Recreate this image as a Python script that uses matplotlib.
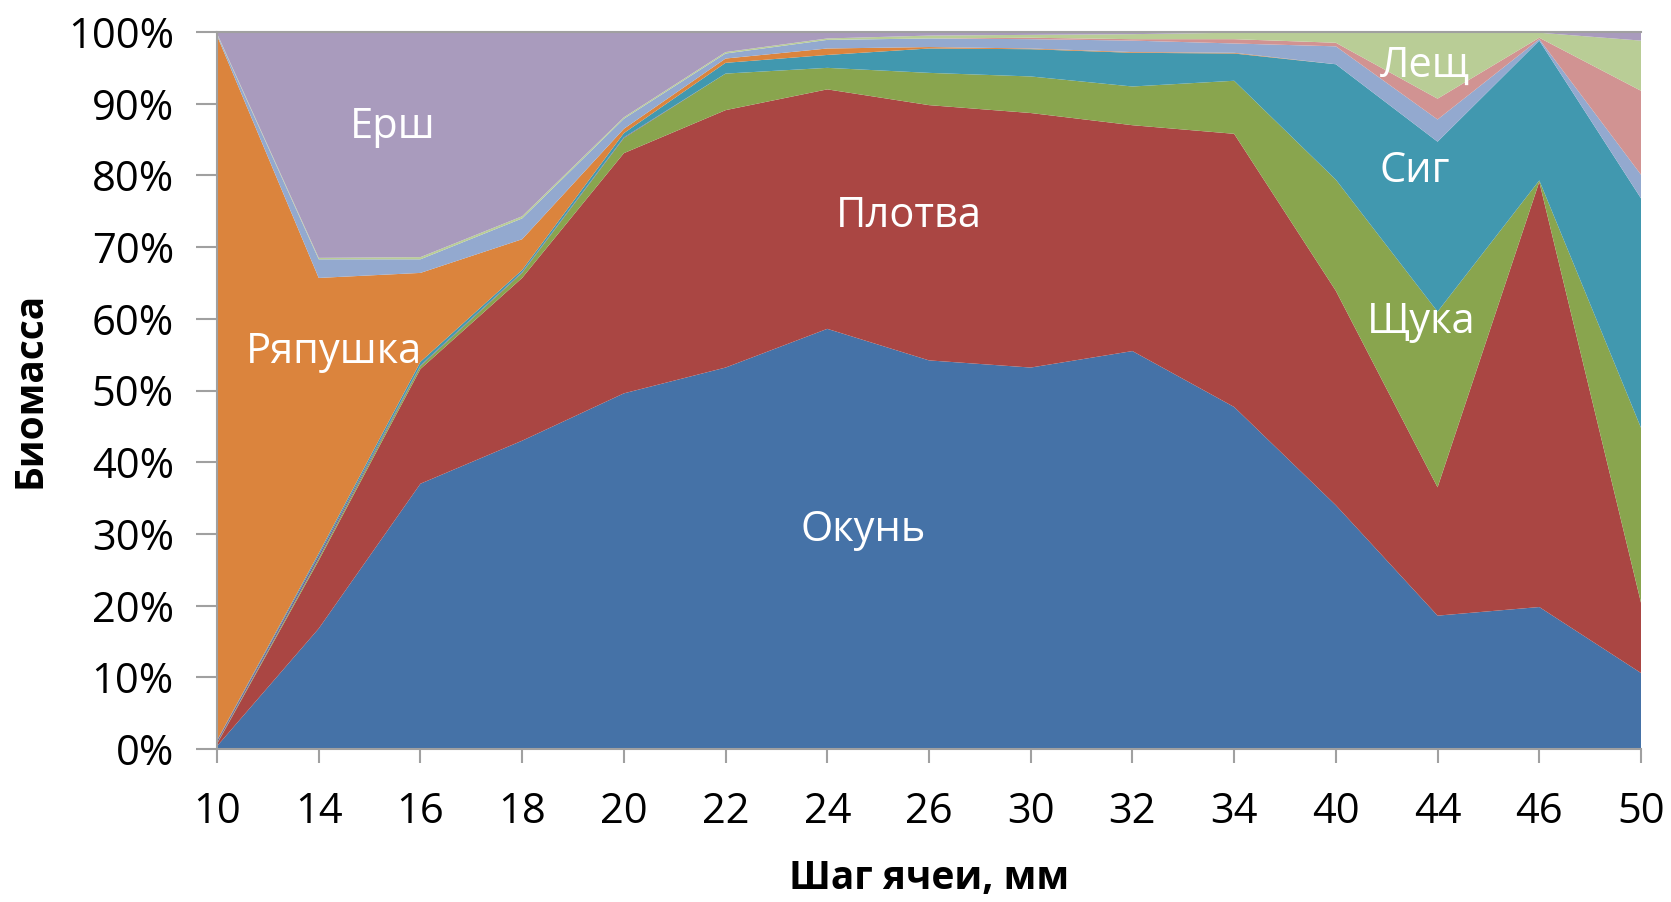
import numpy as np
import matplotlib
matplotlib.use('Agg')
import matplotlib.pyplot as plt

plt.rcParams['font.family'] = ['Open Sans', 'DejaVu Sans']

# mesh size categories (mm)
mesh = ['10', '14', '16', '18', '20', '22', '24', '26', '30', '32', '34', '40', '44', '46', '50']

# biomass share by species, % (bottom to top)
okun     = [0.4, 16.8, 37.0, 43.0, 49.6, 53.2, 58.6, 54.2, 53.2, 55.5, 47.7, 34.0, 18.6, 19.8, 10.6]
plotva   = [0.3, 9.5, 16.0, 22.7, 33.5, 35.9, 33.4, 35.6, 35.5, 31.5, 38.1, 29.9, 17.9, 59.3, 9.8]
shchuka  = [0.1, 0.3, 0.4, 0.7, 2.1, 5.1, 3.0, 4.5, 5.1, 5.4, 7.4, 15.5, 24.5, 0.2, 24.4]
other4   = [0.3, 0.4, 0.1, 0.1, 0.1, 0, 0, 0, 0, 0, 0, 0, 0, 0, 0]
sig      = [0.1, 0.3, 0.5, 0.3, 0.6, 1.5, 1.8, 3.4, 3.8, 4.7, 3.8, 16.1, 23.7, 19.5, 32.0]
ryapushka = [98.3, 38.4, 12.4, 4.3, 0.6, 0.6, 0.9, 0.2, 0.1, 0.1, 0.1, 0, 0, 0, 0]
other7   = [0.2, 2.6, 1.9, 2.9, 1.4, 0.7, 1.2, 1.2, 1.3, 1.6, 1.3, 2.5, 3.1, 0.2, 3.3]
other8   = [0, 0, 0, 0, 0, 0, 0, 0, 0.2, 0.2, 0.6, 0.5, 2.9, 0.2, 11.7]
leshch   = [0.1, 0.2, 0.3, 0.3, 0.2, 0.2, 0.2, 0.4, 0.4, 0.7, 0.9, 1.45, 9.3, 0.7, 7.0]
ersh     = [0.2, 31.5, 31.4, 25.7, 11.9, 2.8, 0.9, 0.5, 0.4, 0.3, 0.1, 0.05, 0, 0.1, 1.2]

colors = ['#4572A7', '#AA4643', '#89A54E', '#71588F', '#4198AF',
          '#DB843D', '#93A9CF', '#D19392', '#B9CD96', '#A99BBD']

series = np.array([okun, plotva, shchuka, other4, sig, ryapushka, other7, other8, leshch, ersh], dtype=float)
# 100% stacked: normalise each column
series = series / series.sum(axis=0) * 100.0

x = np.arange(len(mesh))

fig = plt.figure(figsize=(16.71, 9.02), dpi=100)
ax = fig.add_axes([217 / 1671, 1 - 749 / 902, 1424 / 1671, 717 / 902])

ax.stackplot(x, series, colors=colors, linewidth=0)

ax.set_xlim(0, len(mesh) - 1)
ax.set_ylim(0, 100)
ax.set_xticks(x)
ax.set_xticklabels(mesh)
ax.set_yticks(np.arange(0, 101, 10))
ax.set_yticklabels([f'{v}%' for v in range(0, 101, 10)])

for s in ['left', 'bottom', 'top']:
    ax.spines[s].set_color('#A0A0A0')
    ax.spines[s].set_linewidth(1.5)
ax.spines['right'].set_visible(False)
ax.tick_params(axis='y', length=15, width=1.5, color='#A0A0A0', labelsize=30, pad=16)
ax.tick_params(axis='x', length=10, width=1.5, color='#A0A0A0', labelsize=30, pad=20)

# species labels inside the areas
labels = [('Ерш', 1.73, 86.8), ('Ряпушка', 1.15, 55.4), ('Плотва', 6.80, 74.3),
          ('Окунь', 6.35, 30.6), ('Сиг', 11.78, 80.6), ('Щука', 11.84, 59.6),
          ('Лещ', 11.88, 95.3)]
for name, lx, ly in labels:
    ax.text(lx, ly, name, color='white', fontsize=30, ha='center', va='center')

fig.text(929 / 1671, 1 - 879 / 902, 'Шаг ячеи, мм', fontsize=28, fontweight='bold',
         ha='center', va='center')
fig.text(30 / 1671, 1 - 390 / 902, 'Биомасса', fontsize=28, fontweight='bold',
         ha='center', va='center', rotation=90)

fig.savefig('out.png', dpi=100)
